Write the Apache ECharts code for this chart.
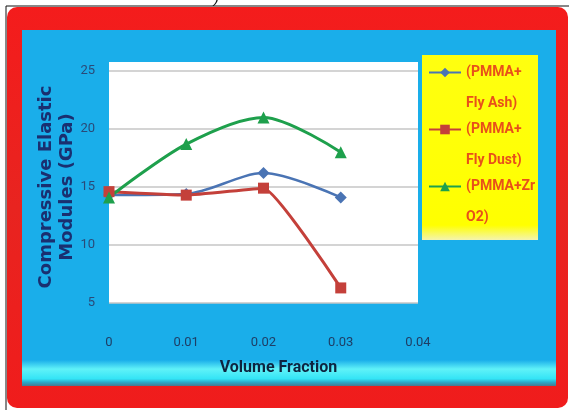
<!DOCTYPE html>
<html>
<head>
<meta charset="utf-8">
<script src="https://cdn.jsdelivr.net/npm/echarts@6/dist/echarts.min.js"></script>
<style>html,body{margin:0;padding:0;background:#fff;}#chart{width:569px;height:410px;}</style>
</head>
<body>
<div id="chart"></div>
<script>
// ---- data ----
var xValues = [0, 0.01, 0.02, 0.03];
var flyAsh = [14.3, 14.4, 16.2, 14.1];
var flyDust = [14.6, 14.3, 14.9, 6.3];
var zrO2 = [14.1, 18.7, 21.0, 18.0];
var seriesNames = ['(PMMA+\nFly Ash)', '(PMMA+\nFly Dust)', '(PMMA+Zr\nO2)'];
var xTicks = [0, 0.01, 0.02, 0.03, 0.04];
var yTicks = [5, 10, 15, 20, 25];

function pairs(vals) { return xValues.map(function (x, i) { return [x, vals[i]]; }); }

var chart = echarts.init(document.getElementById('chart'));
var lab = 'Roboto, sans-serif';
var option = {
  backgroundColor: '#ffffff',
  animation: false,
  graphic: [
    { type: 'rect', z: -10, shape: { x: 6, y: 6, width: 570, height: 410 }, style: { fill: 'none', stroke: '#111', lineWidth: 1 } },
    { type: 'rect', z: -9, shape: { x: 7, y: 7, width: 561, height: 401, r: 10 },
      style: { fill: new echarts.graphic.LinearGradient(0, 0, 0, 1, [
        { offset: 0, color: '#f41c1c' }, { offset: 0.5, color: '#e82420' }, { offset: 1, color: '#f01c1c' }]) } },
    { type: 'rect', z: -8, shape: { x: 22, y: 30, width: 534, height: 356 }, style: { fill: '#1aaeea' } },
    { type: 'rect', z: -7, shape: { x: 22, y: 360, width: 534, height: 26 },
      style: { fill: new echarts.graphic.LinearGradient(0, 0, 0, 1, [
        { offset: 0, color: '#1aaeea' }, { offset: 0.35, color: '#60f2f8' }, { offset: 0.72, color: '#34e4f6' },
        { offset: 0.86, color: '#2aa8c8' }, { offset: 1, color: '#4a7890' }]) } },
    { type: 'rect', z: -6, shape: { x: 109, y: 62, width: 309, height: 241 }, style: { fill: '#ffffff' } },
    { type: 'rect', z: -6, shape: { x: 422, y: 55, width: 116, height: 185 },
      style: { fill: new echarts.graphic.LinearGradient(0, 0, 0, 1, [
        { offset: 0, color: '#ffff10' }, { offset: 0.92, color: '#ffff00' }, { offset: 1, color: '#f4f4b0' }]) } },
    { type: 'text', z: 5, left: 214, top: -9, style: { text: ')', fill: '#111', font: 'italic 16px sans-serif' } }
  ],
  grid: { left: 109, right: 151, top: 71, bottom: 107 },
  legend: {
    orient: 'vertical',
    left: 428,
    top: 26,
    padding: 0,
    itemWidth: 32,
    itemHeight: 12,
    itemGap: -36,
    selectedMode: false,
    formatter: function (name) { return '\n' + name; },
    textStyle: { color: '#e8501a', fontSize: 14, fontWeight: 'bold', fontFamily: lab, lineHeight: 31 },
    data: seriesNames
  },
  xAxis: {
    type: 'value', min: 0, max: 0.04, interval: 0.01,
    name: 'Volume Fraction', nameLocation: 'middle', nameGap: 57, nameMoveOverlap: false,
    nameTextStyle: { fontSize: 16, fontWeight: 'bold', color: '#0e2440', fontFamily: lab, padding: [0, 0, 0, 30] },
    axisLine: { show: false }, axisTick: { show: false },
    splitLine: { show: false },
    axisLabel: { margin: 33, fontSize: 13, color: '#1e3e66', fontFamily: lab,
      formatter: function (v) { var i = xTicks.indexOf(Math.round(v * 100) / 100); return i >= 0 ? String(xTicks[i]) : ''; } }
  },
  yAxis: {
    type: 'value', min: 5, max: 25, interval: 5,
    name: 'Compressive Elastic\nModules (GPa)', nameLocation: 'middle', nameGap: 31, nameRotate: 90, nameMoveOverlap: false,
    nameTextStyle: { fontSize: 18, fontWeight: 'bold', color: '#1a2f70', fontFamily: 'DejaVu Sans', lineHeight: 21 },
    axisLine: { show: false }, axisTick: { show: false },
    splitLine: { show: true, lineStyle: { color: '#c6c6c6', width: 1.5 } },
    axisLabel: { margin: 14, fontSize: 13, color: '#2a4a78', fontFamily: lab,
      formatter: function (v) { return yTicks.indexOf(v) >= 0 ? String(v) : ''; } }
  },
  series: [
    { name: seriesNames[0], type: 'line', data: pairs(flyAsh), smooth: 0.3,
      symbol: 'diamond', symbolSize: 12, itemStyle: { color: '#4a74b4' }, lineStyle: { width: 2.5, color: '#4a74b4' } },
    { name: seriesNames[1], type: 'line', data: pairs(flyDust), smooth: 0.12,
      symbol: 'rect', symbolSize: 11, itemStyle: { color: '#c4403a' }, lineStyle: { width: 3, color: '#c4403a' } },
    { name: seriesNames[2], type: 'line', data: pairs(zrO2), smooth: 0.3,
      symbol: 'triangle', symbolSize: 12, itemStyle: { color: '#1ea04c' }, lineStyle: { width: 3, color: '#1ea04c' } }
  ]
};
chart.setOption(option);
</script>
</body>
</html>
